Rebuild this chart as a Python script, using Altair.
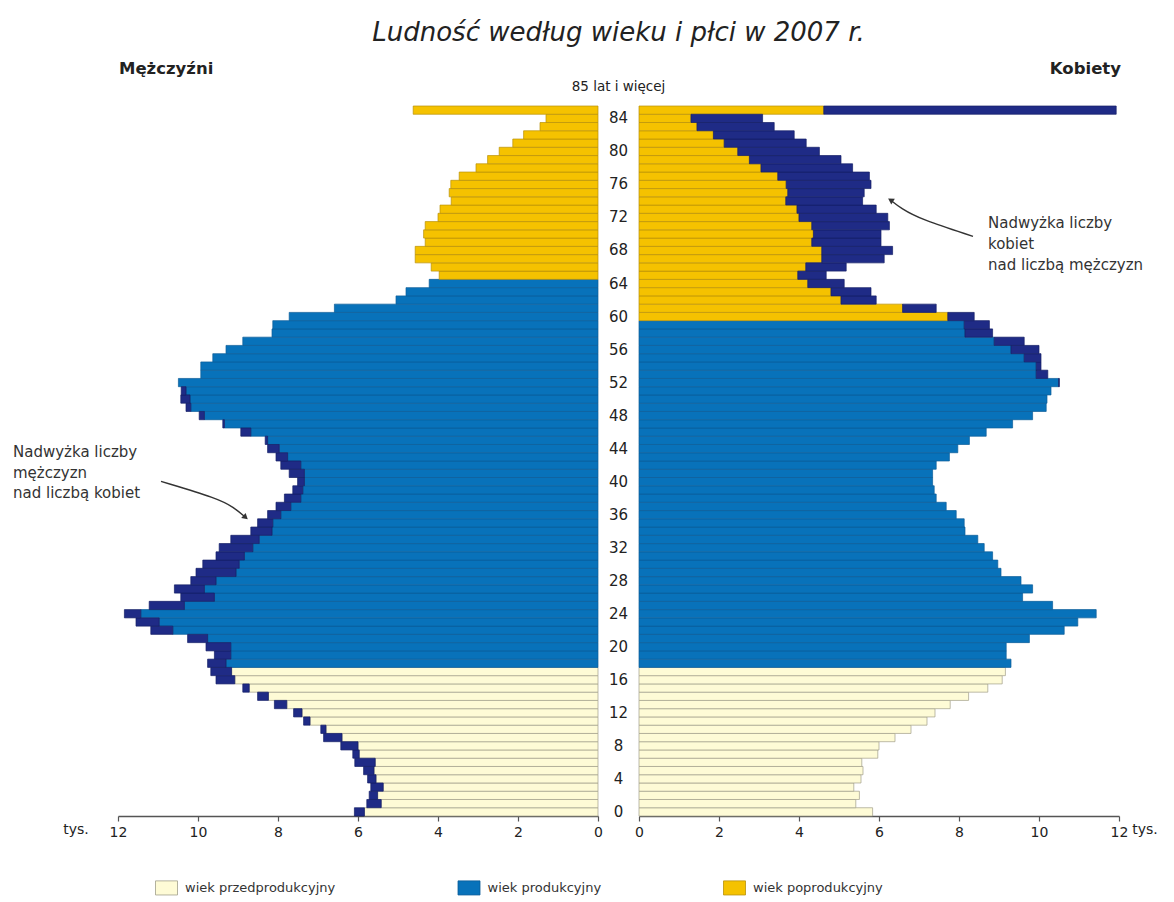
import altair as alt
import pandas as pd

# ---------------- data (thousands of persons) ----------------
ages = list(range(86))          # 85 = "85 lat i więcej"
men = [6.09, 5.78, 5.72, 5.68, 5.76, 5.86, 6.08, 6.13, 6.43, 6.86,
       6.93, 7.36, 7.61, 8.09, 8.51, 8.88, 9.55, 9.68, 9.76, 9.59,
       9.80, 10.26, 11.18, 11.55, 11.84, 11.22, 10.43, 10.59, 10.18, 10.05,
       9.88, 9.55, 9.47, 9.18, 8.68, 8.51, 8.26, 8.05, 7.84, 7.63,
       7.51, 7.72, 7.93, 8.05, 8.26, 8.32, 8.93, 9.38, 9.97, 10.30,
       10.43, 10.42, 10.49, 9.93, 9.93, 9.63, 9.30, 8.88, 8.15, 8.13,
       7.72, 6.59, 5.05, 4.80, 4.22, 3.97, 4.17, 4.57, 4.57, 4.32,
       4.36, 4.32, 4.00, 3.95, 3.67, 3.72, 3.68, 3.47, 3.05, 2.76,
       2.47, 2.13, 1.86, 1.45, 1.30, 4.62]
women = [5.84, 5.42, 5.51, 5.37, 5.55, 5.60, 5.57, 5.97, 6.00, 6.40,
         6.80, 7.20, 7.40, 7.78, 8.24, 8.72, 9.08, 9.16, 9.30, 9.18,
         9.18, 9.76, 10.63, 10.97, 11.43, 10.34, 9.59, 9.84, 9.55, 9.05,
         8.97, 8.84, 8.63, 8.47, 8.15, 8.13, 7.93, 7.68, 7.43, 7.38,
         7.34, 7.34, 7.43, 7.76, 7.97, 8.26, 8.68, 9.34, 9.84, 10.18,
         10.20, 10.30, 10.51, 10.22, 10.05, 10.05, 10.00, 9.63, 8.84, 8.76,
         8.38, 7.43, 5.93, 5.80, 5.13, 4.68, 5.18, 6.13, 6.34, 6.05,
         6.05, 6.26, 6.22, 5.93, 5.59, 5.63, 5.80, 5.76, 5.34, 5.05,
         4.51, 4.18, 3.88, 3.38, 3.09, 11.93]
age_ticks = list(range(0, 85, 4))
x_ticks = [0, 2, 4, 6, 8, 10, 12]
cat_names = ["wiek przedprodukcyjny", "wiek produkcyjny", "wiek poprodukcyjny"]
men_prod_end = 64
women_prod_end = 59

title_text = "Ludność według wieku i płci w 2007 r."
old_label = "85 lat i więcej"
men_label = "Mężczyźni"
women_label = "Kobiety"
unit_label = "tys."
men_note = ["Nadwyżka liczby", "mężczyzn", "nad liczbą kobiet"]
women_note = ["Nadwyżka liczby", "kobiet", "nad liczbą mężczyzn"]

# ---------------- styles ----------------
FONT = "DejaVu Sans"
fill_colors = ["#FEFBD6", "#0872BA", "#F5C200"]
stroke_colors = ["#A09E8A", "#0B5C98", "#B8900A"]
NAVY = "#1F2B86"
TXT = "#222222"
W, H, MID = 480, 710, 41


def category(age, limit):
    if age <= 17:
        return cat_names[0]
    if age <= limit:
        return cat_names[1]
    return cat_names[2]


def side_frame(own, other, limit):
    rows = []
    for a, v, o in zip(ages, own, other):
        rows.append(dict(age=a, lo=a - 0.5, hi=a + 0.5, zero=0.0,
                         base=min(v, o), val=v, cat=category(a, limit)))
    return pd.DataFrame(rows)


left_df = side_frame(men, women, men_prod_end)
right_df = side_frame(women, men, women_prod_end)

ys = alt.Scale(domain=[-0.5, 85.5], nice=False, zero=False)

legend = alt.Legend(
    orient="none", legendX=37, legendY=770, direction="horizontal", title=None,
    symbolType="M-1,-0.64H1V0.64H-1Z", symbolSize=484,
    symbolStrokeColor="#8c8c80", symbolStrokeWidth=0.8,
    labelFont=FONT, labelFontSize=13, labelColor="#333333",
    columnPadding=119.5, labelOffset=7,
)
fill_enc = alt.Fill("cat:N", scale=alt.Scale(domain=cat_names, range=fill_colors), legend=legend)
stroke_enc = alt.Stroke("cat:N", scale=alt.Scale(domain=cat_names, range=stroke_colors), legend=None)


def panel(df, reverse, header, header_align, header_v, unit_v, note, note_v, note_ages,
          arrow_v, arrow_age, head_v, head_age, head_angle):
    xs = alt.Scale(domain=[0, 12], reverse=reverse, nice=False, zero=False)
    axis = alt.Axis(values=x_ticks, title=None, grid=False, tickSize=5, labelPadding=4,
                    labelFontSize=14, labelFont=FONT, labelColor=TXT, domainColor="#555555",
                    tickColor="#555555", domainWidth=1.5, tickWidth=1.2, labelFlush=False)
    X = lambda f: alt.X(f, scale=xs, axis=axis)
    Y = lambda f: alt.Y(f, scale=ys, axis=None)

    bars = alt.Chart(df).mark_rect(strokeWidth=0.7).encode(
        x=X("zero:Q"), x2="base:Q", y=Y("lo:Q"), y2="hi:Q",
        fill=fill_enc, stroke=stroke_enc)
    extra = alt.Chart(df).transform_filter("datum.val > datum.base + 0.001").mark_rect(
        fill=NAVY, stroke="#141E66", strokeWidth=0.7).encode(
        x=X("base:Q"), x2="val:Q", y=Y("lo:Q"), y2="hi:Q")

    head_df = pd.DataFrame({"v": [header_v], "age": [89.93], "t": [header]})
    head = alt.Chart(head_df).mark_text(font=FONT, fontSize=16.5, fontWeight="bold",
                                        align=header_align, baseline="middle", color=TXT).encode(
        x=X("v:Q"), y=Y("age:Q"), text="t:N")

    unit_df = pd.DataFrame({"v": [unit_v], "age": [-2.24], "t": [unit_label]})
    unit = alt.Chart(unit_df).mark_text(font=FONT, fontSize=14, align="center",
                                        baseline="middle", color=TXT).encode(
        x=X("v:Q"), y=Y("age:Q"), text="t:N")

    note_df = pd.DataFrame({"v": [note_v] * len(note), "age": note_ages, "t": note})
    notes = alt.Chart(note_df).mark_text(font=FONT, fontSize=15, align="left",
                                         baseline="middle", color="#333333").encode(
        x=X("v:Q"), y=Y("age:Q"), text="t:N")

    arrow_df = pd.DataFrame({"v": arrow_v, "age": arrow_age, "o": list(range(len(arrow_v)))})
    arrow = alt.Chart(arrow_df).mark_line(color="#333333", strokeWidth=1.4, interpolate="basis").encode(
        x=X("v:Q"), y=Y("age:Q"), order="o:Q")
    tip_df = pd.DataFrame({"v": [head_v], "age": [head_age]})
    tip = alt.Chart(tip_df).mark_point(shape="triangle-up", filled=True, size=45, color="#333333",
                                       opacity=1, angle=head_angle).encode(
        x=X("v:Q"), y=Y("age:Q"))

    return alt.layer(bars, extra, head, unit, notes, arrow, tip).properties(width=W, height=H)


left = panel(left_df, True, men_label, "left", 11.975, 13.05, men_note, 14.625,
             [43.54, 41.06, 38.58],
             [10.925, 9.5, 9.1, 8.81], [40.03, 37.97, 36.88, 35.67], 8.81, 35.67, 131)
right = panel(right_df, False, women_label, "right", 12.05, 12.65, women_note, 8.725,
              [71.28, 68.74, 66.19],
              [8.35, 7.05, 6.55, 6.29], [69.71, 71.76, 73.1, 74.11], 6.29, 74.11, 302)

# ---------------- middle column: age labels & title ----------------
xm = alt.Scale(domain=[0, 1])
mid_df = pd.DataFrame({"m": [0.5] * len(age_ticks), "age": age_ticks, "t": [str(a) for a in age_ticks]})
mid_labels = alt.Chart(mid_df).mark_text(font=FONT, fontSize=15, align="center",
                                         baseline="middle", color=TXT).encode(
    x=alt.X("m:Q", scale=xm, axis=None), y=alt.Y("age:Q", scale=ys, axis=None), text="t:N")
old_df = pd.DataFrame({"m": [0.5], "age": [87.75], "t": [old_label]})
old_txt = alt.Chart(old_df).mark_text(font=FONT, fontSize=13.5, align="center",
                                      baseline="middle", color=TXT).encode(
    x=alt.X("m:Q", scale=xm, axis=None), y=alt.Y("age:Q", scale=ys, axis=None), text="t:N")
title_df = pd.DataFrame({"m": [0.5], "age": [94.29], "t": [title_text]})
title_txt = alt.Chart(title_df).mark_text(font=FONT, fontSize=26, fontStyle="italic",
                                          align="center", baseline="middle", color=TXT).encode(
    x=alt.X("m:Q", scale=xm, axis=None), y=alt.Y("age:Q", scale=ys, axis=None), text="t:N")
middle = alt.layer(mid_labels, old_txt, title_txt).properties(width=MID, height=H)

chart = alt.hconcat(left, middle, right, spacing=0, bounds="flush").resolve_scale(
    x="independent", y="shared"
).properties(
    padding={"left": 5, "top": 12, "right": 5, "bottom": 5},
    background="white",
).configure_view(stroke="transparent", strokeWidth=0)

chart.save("out.html", embed_options={"renderer": "svg", "actions": False})
